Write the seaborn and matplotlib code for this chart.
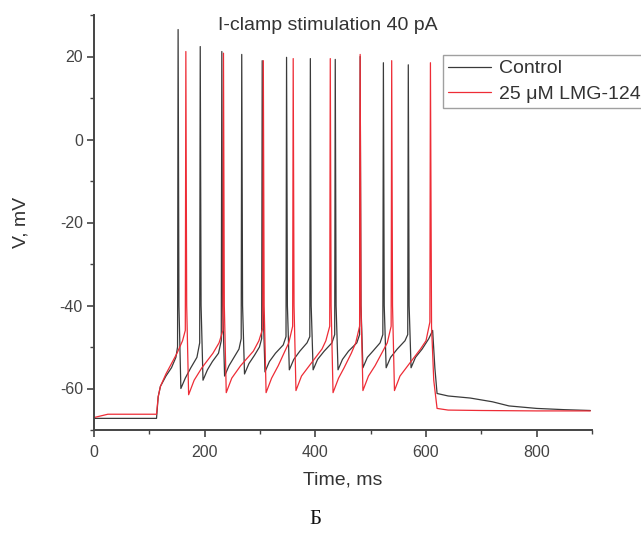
import pandas as pd
import matplotlib
matplotlib.use("Agg")
import matplotlib.pyplot as plt
from matplotlib.ticker import MultipleLocator
import seaborn as sns

# --- data (time in ms, membrane potential in mV) ---
trace_names = ["Control", "25 \u03bcM LMG-124"]

ctrl_t = [0, 113, 116, 120, 130, 140, 148, 151, 152, 153.5, 157,
          165, 175, 186, 191, 192, 193.5, 197,
          205, 214, 225, 230, 231, 232.5, 236,
          244, 253, 262, 266, 267, 268.5, 272,
          280, 290, 299, 303, 304, 305.5, 309,
          317, 328, 342, 347, 348, 349.5, 353,
          361, 372, 385, 390, 391, 392.5, 396,
          404, 416, 430, 435, 436, 437.5, 441,
          449, 460, 475, 480, 481, 482.5, 486,
          494, 504, 517, 522, 523, 524.5, 528,
          536, 548, 562, 567, 568, 569.5, 573,
          581, 593, 605, 612, 616, 620, 640, 680, 720, 750, 800, 850, 897]
ctrl_v = [-67.2, -67.2, -62, -59.5, -57, -55, -52.5, -50, 26.5, -40, -60,
          -57.5, -55, -52.5, -49, 22.4, -40, -58,
          -55.5, -53.5, -51.5, -48.5, 21.2, -40, -57,
          -54.5, -52.5, -50.5, -48, 20.5, -40, -56.5,
          -54, -52, -50, -48, 19.0, -40, -56,
          -53.5, -51.5, -49.5, -47.5, 19.8, -40, -55.5,
          -53, -51, -49, -47.5, 19.5, -40, -55.5,
          -53, -51, -49, -47, 19.3, -40, -55.5,
          -53, -51, -49, -47, 20.0, -40, -55,
          -52.5, -51, -49, -47, 18.5, -40, -55,
          -52.5, -50.5, -48.5, -47, 18.0, -40, -55,
          -52.5, -50.5, -48, -46, -55, -61.2, -61.8, -62.3, -63.2, -64.2, -64.8, -65.1, -65.3]

lmg_t = [0, 25, 113, 116, 120, 130, 140, 150, 160, 165, 166, 167.5, 171,
         181, 195, 215, 226, 233, 234, 235.5, 239,
         249, 265, 288, 298, 305, 306, 307.5, 311,
         321, 333, 345, 352, 359, 360, 361.5, 365,
         375, 392, 412, 419, 426, 427, 428.5, 432,
         442, 452, 465, 473, 480, 481, 482.5, 486,
         496, 508, 522, 530, 537, 538, 539.5, 543,
         553, 570, 590, 600, 607, 608, 610, 614, 620, 640, 700, 800, 897]
lmg_v = [-67.0, -66.2, -66.2, -62, -59.5, -56.5, -54, -51.5, -48.5, -46, 21.2, -40, -61.5,
         -58, -55, -51.5, -49, -46, 20.8, -40, -61,
         -57.5, -54.5, -51, -48.5, -45.5, 19.0, -40, -61,
         -57.5, -54.5, -51, -49, -45, 19.5, -40, -60.5,
         -57, -54, -50.5, -48.5, -45, 19.5, -40, -61,
         -57.5, -55, -51.5, -49, -45, 20.5, -40, -60.5,
         -57, -54.5, -51, -49, -45, 19.0, -40, -60.5,
         -57, -54, -50.5, -48.5, -44, 18.5, -45, -58, -64.8, -65.2, -65.3, -65.4, -65.4]

x_ticks = [0, 200, 400, 600, 800]
y_ticks = [-60, -40, -20, 0, 20]

df = pd.concat([
    pd.DataFrame({"t": ctrl_t, "v": ctrl_v, "trace": trace_names[0]}),
    pd.DataFrame({"t": lmg_t, "v": lmg_v, "trace": trace_names[1]}),
], ignore_index=True)

sns.set_style("ticks")
plt.rcParams["font.family"] = ["Liberation Sans", "DejaVu Sans"]
plt.rcParams["axes.unicode_minus"] = False

fig = plt.figure(figsize=(6.41, 5.33), dpi=100)
ax = fig.add_axes([94 / 641, 1 - 430 / 533, 498 / 641, 415 / 533])

palette = {trace_names[0]: "#3a3a3a", trace_names[1]: "#ee2c36"}
sns.lineplot(data=df, x="t", y="v", hue="trace", palette=palette,
             estimator=None, sort=False, linewidth=0.9, ax=ax)

ax.set_xlim(0, 900)
ax.set_ylim(-70, 30)
ax.set_xticks(x_ticks)
ax.set_yticks(y_ticks)
ax.xaxis.set_minor_locator(MultipleLocator(100))
ax.yaxis.set_minor_locator(MultipleLocator(10))
sns.despine(ax=ax)
for side in ["left", "bottom"]:
    ax.spines[side].set_linewidth(1.4)
    ax.spines[side].set_color("#444444")
ax.tick_params(which="major", length=5, width=1.2, color="#444444",
               labelsize=11.5, labelcolor="#444444", pad=3)
ax.tick_params(which="minor", length=3, width=1.0, color="#444444")
ax.tick_params(axis="x", which="major", pad=6)

ax.set_xlabel("Time, ms", fontsize=14, color="#333333")
ax.set_ylabel("V, mV", fontsize=14, color="#333333")
ax.xaxis.set_label_coords(0.5, -0.1)
ax.yaxis.set_label_coords(-0.13, 0.5)

handles, labels = ax.get_legend_handles_labels()
leg = ax.legend(handles, labels, loc="upper left", bbox_to_anchor=(0.701, 0.904),
                fontsize=14, frameon=True, fancybox=False, handlelength=2.2,
                handletextpad=0.45, borderpad=0.25, labelspacing=0.4,
                borderaxespad=0)
leg.get_frame().set_edgecolor("#888888")
leg.get_frame().set_linewidth(1.0)
for txt in leg.get_texts():
    txt.set_color("#333333")

fig.text(328 / 641, 1 - 26 / 533, "I-clamp stimulation 40 pA", fontsize=14,
         ha="center", va="center", color="#333333")
fig.text(315 / 641, 1 - 520 / 533, "\u0411", fontsize=15, ha="center", va="center",
         family=["Liberation Serif", "DejaVu Serif"], color="#111111")

fig.savefig("out.png", dpi=100)
